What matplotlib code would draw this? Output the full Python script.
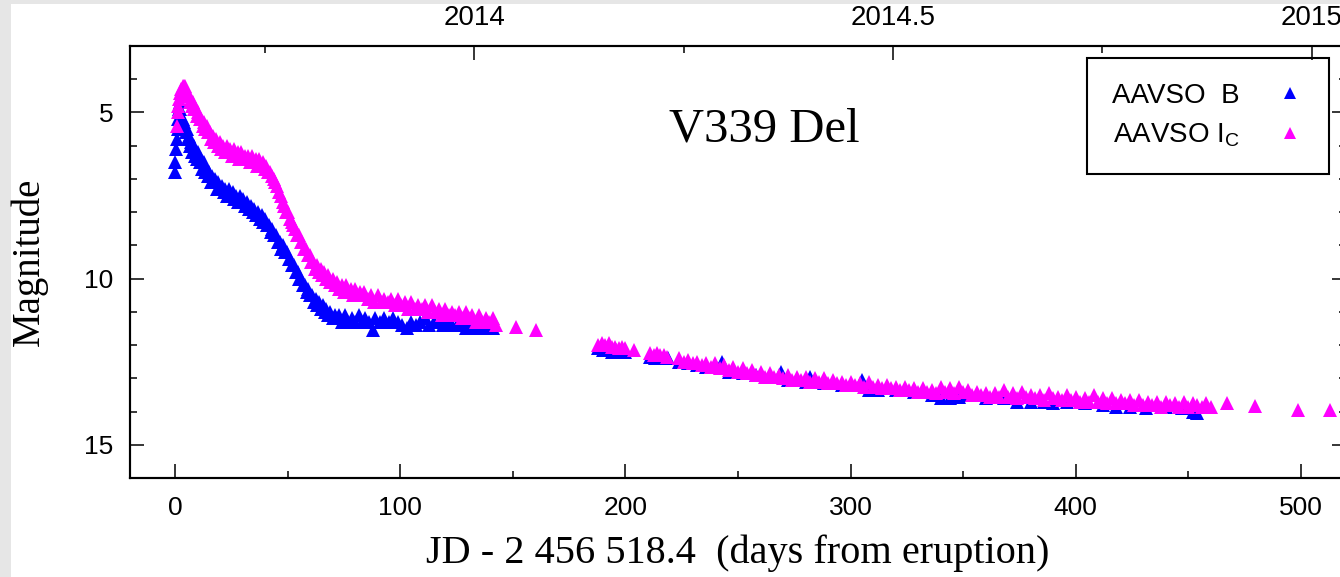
import matplotlib
matplotlib.use('Agg')
import matplotlib.pyplot as plt
import numpy as np
from matplotlib.ticker import MultipleLocator, FixedLocator
from matplotlib.patches import Rectangle

plt.rcParams['font.family'] = 'Liberation Sans'

# AAVSO B (day, mag)
b_early = [(0.0, 6.8), (0.2, 6.5), (0.5, 6.1), (0.8, 5.8), (1.1, 5.5), (1.4, 5.2), (1.7, 4.9), (2.0, 4.7),
           (2.3, 4.9), (2.7, 5.2), (3.0, 5.4), (3.4, 5.2), (3.8, 5.5), (4.2, 5.3), (4.7, 5.6), (5.2, 5.5),
           (5.7, 5.8), (6.2, 5.7), (6.7, 6.0), (7.2, 5.9), (7.7, 6.2), (8.2, 6.0), (8.7, 6.3), (9.2, 6.2),
           (9.7, 6.4), (10.3, 6.2), (10.9, 6.5), (11.5, 6.4), (12.1, 6.7), (12.7, 6.5), (13.3, 6.8), (13.9, 6.7),
           (14.5, 6.9), (15.1, 6.8), (15.8, 7.1), (16.5, 6.9), (17.2, 7.1), (17.9, 7.0), (18.6, 7.3), (19.3, 7.1),
           (20.0, 7.3), (20.8, 7.2), (21.6, 7.4), (22.4, 7.3), (23.2, 7.5), (24.0, 7.3), (24.8, 7.5), (25.6, 7.4),
           (26.4, 7.6), (27.2, 7.5), (28.0, 7.7), (28.8, 7.5), (29.6, 7.7), (30.4, 7.6), (31.2, 7.8), (32.0, 7.7),
           (32.8, 7.9), (33.6, 7.8), (34.4, 8.0), (35.2, 7.9), (36.0, 8.1), (36.8, 8.0), (37.6, 8.2), (38.4, 8.1),
           (39.2, 8.3), (40.0, 8.2), (40.8, 8.4), (41.6, 8.4), (42.4, 8.6), (43.2, 8.5), (44.0, 8.7), (44.8, 8.7),
           (45.6, 8.9), (46.4, 8.9), (47.2, 9.1), (48.0, 9.0), (48.8, 9.2), (49.6, 9.2), (50.4, 9.4), (51.2, 9.4),
           (52.0, 9.6), (52.8, 9.6), (53.6, 9.8), (54.4, 9.8), (55.2, 10.0), (56.0, 10.0), (56.8, 10.2), (57.6, 10.2),
           (58.4, 10.4), (59.2, 10.3), (60.0, 10.5), (60.8, 10.5), (61.6, 10.7), (62.4, 10.6), (63.2, 10.8), (64.0, 10.7),
           (64.8, 10.9), (65.6, 10.8), (66.4, 11.0), (67.2, 10.9), (68.0, 11.1), (69.0, 11.0), (70.0, 11.2), (71.0, 11.1),
           (72.0, 11.2), (73.0, 11.1), (74.0, 11.3), (75.5, 11.1), (77.0, 11.3), (78.5, 11.2), (80.0, 11.3), (81.5, 11.1),
           (83.0, 11.3), (84.5, 11.2), (86.0, 11.3), (88.0, 11.55), (89.0, 11.2), (91.0, 11.3), (93.0, 11.2), (95.0, 11.3),
           (97.0, 11.2), (99.0, 11.3), (101.0, 11.4), (103.0, 11.5), (105.0, 11.3), (107.0, 11.4), (109.0, 11.3),
           (111.0, 11.2), (113.0, 11.4), (115.0, 11.3), (117.0, 11.3), (119.0, 11.4), (121.0, 11.3), (123.0, 11.4),
           (125.0, 11.4), (127.0, 11.4), (129.0, 11.5), (131.0, 11.4), (133.0, 11.5), (135.0, 11.5), (137.0, 11.4),
           (139.0, 11.5), (141.0, 11.5)]

b_late = [(188, 12.1), (190, 12.15), (192, 12.1), (194, 12.2), (196, 12.15), (198, 12.2), (200, 12.2),
          (211, 12.35), (213, 12.4), (215, 12.35), (217, 12.4), (219, 12.4), (224, 12.5), (228, 12.55),
          (232, 12.6), (236, 12.65), (243, 12.5), (246, 12.8), (252, 12.85), (258, 12.9), (264, 12.95),
          (269, 12.8), (272, 13.05), (280, 13.1), (282, 12.95), (288, 13.15), (296, 13.2), (305, 13.05),
          (308, 13.35), (312, 13.35), (320, 13.35), (328, 13.4), (336, 13.5), (340, 13.6), (344, 13.6),
          (348, 13.55), (352, 13.5), (360, 13.6), (368, 13.6), (374, 13.7), (380, 13.7), (386, 13.7),
          (390, 13.75), (396, 13.7), (404, 13.75), (412, 13.8), (418, 13.85), (424, 13.85), (431, 13.9),
          (440, 13.85), (447, 13.9), (452, 14.0), (454, 14.05)]

# AAVSO I_C (day, mag)
i_early = [(1.0, 5.4), (1.2, 5.0), (1.5, 4.8), (1.8, 4.6), (2.2, 4.4), (2.6, 4.3), (3.0, 4.3), (3.4, 4.2),
           (3.8, 4.2), (4.2, 4.3), (4.6, 4.2), (5.0, 4.4), (5.5, 4.5), (6.0, 4.5), (6.5, 4.7), (7.0, 4.6),
           (7.5, 4.8), (8.0, 4.7), (8.6, 4.9), (9.2, 4.9), (9.8, 5.1), (10.4, 5.0), (11.0, 5.2), (11.6, 5.2),
           (12.2, 5.4), (12.8, 5.3), (13.4, 5.5), (14.0, 5.4), (14.7, 5.6), (15.4, 5.6), (16.1, 5.8), (16.8, 5.7),
           (17.5, 5.9), (18.2, 5.8), (19.0, 6.0), (19.8, 5.9), (20.6, 6.1), (21.4, 6.0), (22.2, 6.2), (23.0, 6.0),
           (23.8, 6.2), (24.6, 6.1), (25.4, 6.3), (26.2, 6.1), (27.0, 6.3), (27.8, 6.2), (28.6, 6.4), (29.4, 6.2),
           (30.2, 6.4), (31.0, 6.3), (31.8, 6.4), (32.6, 6.3), (33.4, 6.5), (34.2, 6.3), (35.0, 6.5), (35.8, 6.4),
           (36.6, 6.6), (37.4, 6.4), (38.2, 6.6), (39.0, 6.5), (39.8, 6.7), (40.6, 6.6), (41.4, 6.8), (42.2, 6.8),
           (43.0, 6.9), (43.8, 7.0), (44.6, 7.1), (45.4, 7.2), (46.2, 7.4), (47.0, 7.5), (47.8, 7.7), (48.6, 7.8),
           (49.4, 8.0), (50.2, 8.0), (51.0, 8.2), (51.8, 8.3), (52.6, 8.4), (53.4, 8.5), (54.2, 8.7), (55.0, 8.7),
           (55.8, 8.9), (56.6, 8.9), (57.4, 9.1), (58.2, 9.1), (59.0, 9.3), (59.8, 9.3), (60.6, 9.5), (61.4, 9.5),
           (62.2, 9.7), (63.0, 9.6), (63.8, 9.8), (64.6, 9.7), (65.4, 9.9), (66.2, 9.8), (67.0, 10.0), (68.0, 9.9),
           (69.0, 10.1), (70.0, 10.0), (71.0, 10.2), (72.0, 10.1), (73.0, 10.3), (74.0, 10.2), (75.0, 10.4),
           (76.0, 10.2), (77.0, 10.4), (78.0, 10.3), (79.0, 10.5), (80.0, 10.3), (81.0, 10.5), (82.0, 10.4),
           (83.0, 10.5), (84.0, 10.4), (85.5, 10.6), (87.0, 10.5), (88.5, 10.7), (90.0, 10.5), (91.5, 10.7),
           (93.0, 10.6), (94.5, 10.7), (96.0, 10.6), (97.5, 10.8), (99.0, 10.6), (100.5, 10.8), (102.0, 10.7),
           (103.5, 10.9), (105.0, 10.7), (106.5, 10.9), (108.0, 10.8), (109.5, 10.9), (111.0, 10.8), (112.5, 11.0),
           (114.0, 10.8), (115.5, 11.0), (117.0, 10.9), (118.5, 11.1), (120.0, 10.9), (121.5, 11.1), (123.0, 11.0),
           (124.5, 11.1), (126.0, 11.0), (127.5, 11.2), (129.0, 11.0), (130.5, 11.2), (132.0, 11.1), (133.5, 11.3),
           (135.0, 11.1), (136.5, 11.3), (138.0, 11.2), (139.5, 11.3), (141.0, 11.2), (142.5, 11.4),
           (151.5, 11.45), (160.5, 11.55)]

i_late = [(188, 12.0), (189.5, 11.95), (191, 12.0), (192.5, 11.95), (194, 12.05), (195.5, 12.05), (197, 12.1),
          (198.5, 12.05), (200, 12.1), (204, 12.15), (211, 12.25), (212.5, 12.3), (214, 12.25), (215.5, 12.3),
          (217, 12.3), (218.5, 12.35),
          (224, 12.40), (226, 12.50), (228, 12.45), (230, 12.55), (232, 12.50), (234, 12.60), (236, 12.55),
          (238, 12.65), (240, 12.55), (242, 12.70), (244, 12.60), (246, 12.75), (248, 12.65), (250, 12.80),
          (252, 12.70), (254, 12.85), (256, 12.75), (258, 12.90), (260, 12.80), (262, 12.95), (264, 12.85),
          (266, 12.95), (268, 12.90), (270, 13.00), (272, 12.90), (274, 13.05), (276, 12.95), (278, 13.05),
          (280, 12.95), (282, 13.10), (284, 13.00), (286, 13.10), (288, 13.00), (290, 13.15), (292, 13.05),
          (294, 13.15), (296, 13.10), (298, 13.20), (300, 13.10), (302, 13.20), (304, 13.15), (306, 13.25),
          (308, 13.10), (310, 13.25), (312, 13.20), (314, 13.30), (316, 13.20), (318, 13.30), (320, 13.25),
          (322, 13.35), (324, 13.25), (326, 13.35), (328, 13.30), (330, 13.40), (332, 13.30), (334, 13.40),
          (336, 13.35), (338, 13.45), (340, 13.25), (342, 13.40), (344, 13.30), (346, 13.45), (348, 13.25),
          (350, 13.40), (352, 13.35), (354, 13.50), (356, 13.40), (358, 13.50), (360, 13.45), (362, 13.55),
          (364, 13.45), (366, 13.55), (368, 13.35), (370, 13.55), (372, 13.45), (374, 13.60), (376, 13.40),
          (378, 13.55), (380, 13.50), (382, 13.60), (384, 13.50), (386, 13.65), (388, 13.45), (390, 13.60),
          (392, 13.55), (394, 13.65), (396, 13.50), (398, 13.65), (400, 13.55), (402, 13.70), (404, 13.60),
          (406, 13.70), (408, 13.50), (410, 13.70), (412, 13.60), (414, 13.75), (416, 13.60), (418, 13.75),
          (420, 13.65), (422, 13.75), (424, 13.65), (426, 13.80), (428, 13.65), (430, 13.80), (432, 13.70),
          (434, 13.80), (436, 13.70), (438, 13.85), (440, 13.70), (442, 13.80), (444, 13.75), (446, 13.85),
          (448, 13.70), (450, 13.85), (452, 13.75), (454, 13.80), (456, 13.85), (458, 13.75), (460, 13.85),
          (467, 13.73), (479.5, 13.82), (498.7, 13.94), (512.8, 13.94)]

# top axis: calendar year labels and where they fall in days
year_labels = ['2014', '2014.5', '2015']
year_days = [132.8, 318.8, 504.9]
year_minor_days = [39.8, 225.8, 411.8]

b = np.array(b_early + b_late)
ic = np.array(i_early + i_late)

fig = plt.figure(figsize=(13.4, 5.77), dpi=100)
fig.patch.set_facecolor('#e6e6e6')
fig.add_artist(Rectangle((11 / 1340, 0), 1, 1 - 4 / 577, transform=fig.transFigure,
                         facecolor='white', edgecolor='none', zorder=-10))

ax = fig.add_axes([130 / 1340, 1 - 478 / 577, 1216 / 1340, 432 / 577])

ax.plot(b[:, 0], b[:, 1], linestyle='none', marker='^', markersize=10.5, color='#0000ff',
        markeredgewidth=0, label='AAVSO  B')
ax.plot(ic[:, 0], ic[:, 1], linestyle='none', marker='^', markersize=10.5, color='#ff00ff',
        markeredgewidth=0, label='AAVSO I$_\\mathregular{C}$')

ax.set_xlim(-20, 520)
ax.set_ylim(16, 3)
ax.xaxis.set_major_locator(MultipleLocator(100))
ax.xaxis.set_minor_locator(MultipleLocator(50))
ax.yaxis.set_major_locator(FixedLocator([5, 10, 15]))
ax.yaxis.set_minor_locator(MultipleLocator(1))
ax.tick_params(which='both', direction='in', top=False, right=True, width=1.1, labelsize=19)
ax.tick_params(which='major', length=10)
ax.tick_params(which='minor', length=5)
ax.tick_params(axis='x', pad=13)
ax.tick_params(axis='y', pad=12)
for s in ax.spines.values():
    s.set_linewidth(1.5)

ax.set_xlabel('JD - 2 456 518.4  (days from eruption)', family='Liberation Serif', fontsize=29, labelpad=10)
ax.set_ylabel('Magnitude', family='Liberation Serif', fontsize=28, labelpad=26)

ax.text(0.522, 0.806, 'V339 Del', transform=ax.transAxes, family='Liberation Serif',
        fontsize=35, ha='center', va='center')

top = ax.twiny()
top.set_xlim(ax.get_xlim())
top.xaxis.set_major_locator(FixedLocator(year_days))
top.xaxis.set_minor_locator(FixedLocator(year_minor_days))
top.set_xticklabels(year_labels)
top.tick_params(which='both', direction='in', width=1.1, labelsize=20, pad=11)
top.tick_params(which='major', length=10)
top.tick_params(which='minor', length=5)
for s in top.spines.values():
    s.set_linewidth(1.5)

leg = ax.legend(loc='upper right', bbox_to_anchor=(0.986, 0.972), borderaxespad=0,
                markerfirst=False, fontsize=20, fancybox=False, framealpha=1,
                edgecolor='black', borderpad=0.9, labelspacing=0.45, handlelength=1.0,
                handletextpad=1.3, markerscale=0.8)
leg.get_frame().set_linewidth(1.5)

fig.savefig('out.png', dpi=100, facecolor=fig.get_facecolor())
